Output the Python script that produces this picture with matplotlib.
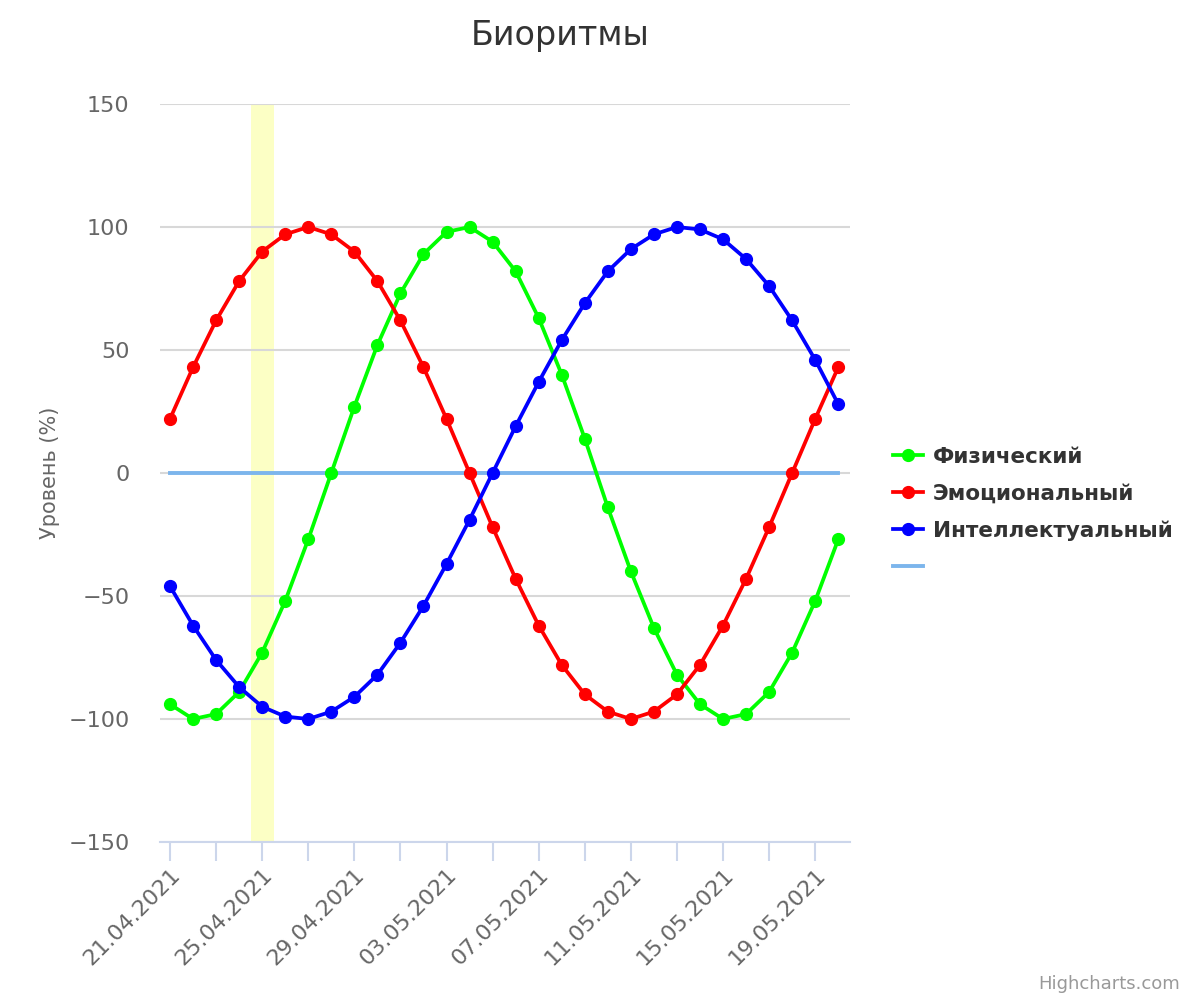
import matplotlib
matplotlib.use('Agg')
import matplotlib.pyplot as plt
import matplotlib.dates as mdates
import pandas as pd

dates = pd.date_range('2021-04-21', periods=30, freq='D')

physical = [-94, -100, -98, -89, -73, -52, -27, 0, 27, 52,
            73, 89, 98, 100, 94, 82, 63, 40, 14, -14,
            -40, -63, -82, -94, -100, -98, -89, -73, -52, -27]
emotional = [22, 43, 62, 78, 90, 97, 100, 97, 90, 78,
             62, 43, 22, 0, -22, -43, -62, -78, -90, -97,
             -100, -97, -90, -78, -62, -43, -22, 0, 22, 43]
intellect = [-46, -62, -76, -87, -95, -99, -100, -97, -91, -82,
             -69, -54, -37, -19, 0, 19, 37, 54, 69, 82,
             91, 97, 100, 99, 95, 87, 76, 62, 46, 28]
zero_line = [0] * 30

labels = ['Физический', 'Эмоциональный', 'Интеллектуальный', ' ']
colors = ['#00ff00', '#ff0000', '#0000ff']
band_day = pd.Timestamp('2021-04-25')

plt.rcParams['font.family'] = ['DejaVu Sans']

fig = plt.figure(figsize=(12, 10), dpi=100)
ax = fig.add_axes([160/1200, 1 - 842/1000, 690/1200, 738/1000])

x = mdates.date2num(dates)
xb = mdates.date2num(band_day)
ax.axvspan(xb - 0.5, xb + 0.5, color='#fcffc5', zorder=0, lw=0)

handles = []
for vals, c, lab in zip([physical, emotional, intellect], colors, labels):
    h, = ax.plot(x, vals, color=c, lw=2.7, marker='o', markersize=8.5, zorder=3, label=lab)
    handles.append(h)
h0, = ax.plot(x, zero_line, color='#7cb5ec', lw=2.8, zorder=2)
handles.append(h0)

ax.set_xlim(x[0] - 0.434, x[0] + 29.51)
ax.set_ylim(-150, 150)
ax.set_yticks([-150, -100, -50, 0, 50, 100, 150])
ax.yaxis.grid(True, color='#d8d8d8', lw=1.5)
ax.set_axisbelow(True)

for s in ['top', 'right', 'left']:
    ax.spines[s].set_visible(False)
ax.spines['bottom'].set_color('#ccd6eb')
ax.spines['bottom'].set_linewidth(1.5)
ax.spines['bottom'].set_zorder(4)

ax.xaxis.set_major_locator(plt.FixedLocator(x[::4]))
ax.xaxis.set_minor_locator(plt.FixedLocator(x[2::4]))
ax.xaxis.set_major_formatter(mdates.DateFormatter('%d.%m.%Y'))
ax.tick_params(axis='x', which='both', length=14, width=1.5, color='#ccd6eb')
ax.tick_params(axis='x', which='major', labelsize=16, labelcolor='#666666', pad=2)
for lbl in ax.get_xticklabels():
    lbl.set_rotation(45)
    lbl.set_ha('right')
    lbl.set_va('top')
    lbl.set_rotation_mode('anchor')
ax.tick_params(axis='y', length=0, labelsize=16, labelcolor='#666666', pad=22)

ax.set_ylabel('Уровень (%)', fontsize=15, color='#666666', labelpad=6)

fig.text(0.4667, 0.964, 'Биоритмы', ha='center', va='center', fontsize=24, color='#333333')
fig.text(0.983, 0.016, 'Highcharts.com', ha='right', va='center', fontsize=13, color='#999999')

fig.legend(handles, labels, loc='center left', bbox_to_anchor=(882/1200, 1 - 512/1000),
           frameon=False, borderpad=0, handlelength=1.4, handletextpad=0.45,
           labelspacing=0.78, prop={'size': 15.5, 'weight': 'bold'}, labelcolor='#333333')

fig.savefig('out.png', dpi=100)
